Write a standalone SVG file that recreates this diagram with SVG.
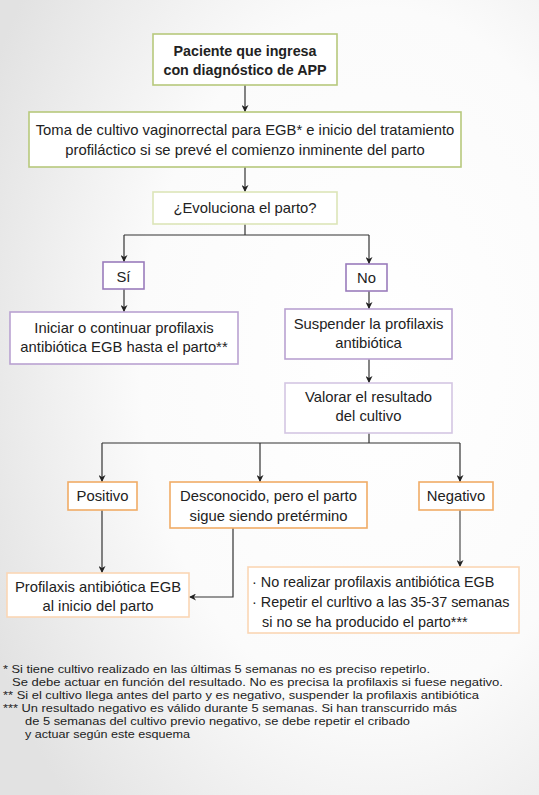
<svg xmlns="http://www.w3.org/2000/svg" width="539" height="795" viewBox="0 0 539 795">
<defs>
<radialGradient id="bg" cx="0.7" cy="0.45" r="0.8">
<stop offset="0" stop-color="#ffffff"/>
<stop offset="0.55" stop-color="#fbfbfb"/>
<stop offset="1" stop-color="#e2e2e2"/>
</radialGradient>
<marker id="ah" viewBox="0 0 10 10" refX="10" refY="5" markerWidth="7" markerHeight="7" markerUnits="userSpaceOnUse" orient="auto">
<path d="M0,0 L10,5 L0,10 L3,5 z" fill="#222"/>
</marker>
</defs>
<style>
rect.n{fill:#fff;stroke-width:1.6}
.g1{stroke:#b7c97c}
.g2{stroke:#dce5b8}
.p1{stroke:#9a7cbc}
.p2{stroke:#b9a2d1}
.p3{stroke:#d4c6e3}
.o1{stroke:#f0ac66}
.o2{stroke:#fbd6b5}
text{font-family:"Liberation Sans",Arial,sans-serif;fill:#222;font-size:14.8px}
text.c{text-anchor:middle}
text.b{font-weight:bold;font-size:14.3px}
text.s{font-size:14.4px}
text.f{font-size:11px}
.con path{fill:none;stroke:#333;stroke-width:1.2}
</style>
<rect width="539" height="795" fill="url(#bg)"/>
<g class="con">
<path d="M245,85 V112" marker-end="url(#ah)"/>
<path d="M245,167 V192" marker-end="url(#ah)"/>
<path d="M245,224 V235 M124,235 H369"/>
<path d="M124,235 V262" marker-end="url(#ah)"/>
<path d="M369,235 V264" marker-end="url(#ah)"/>
<path d="M124,289 V312" marker-end="url(#ah)"/>
<path d="M369,291 V309" marker-end="url(#ah)"/>
<path d="M369,359 V383" marker-end="url(#ah)"/>
<path d="M369,433 V443 M102,443 H460"/>
<path d="M102,443 V482" marker-end="url(#ah)"/>
<path d="M260,443 V482" marker-end="url(#ah)"/>
<path d="M460,443 V482" marker-end="url(#ah)"/>
<path d="M102,510 V573" marker-end="url(#ah)"/>
<path d="M233,528 V597 H189" marker-end="url(#ah)"/>
<path d="M460,510 V567" style="stroke:#666;stroke-width:1.4" marker-end="url(#ah)"/>
</g>
<g id="n1"><rect class="n g1" x="153" y="34" width="184" height="51"/>
<text class="c b" x="245" y="56">Paciente que ingresa</text>
<text class="c b" x="245" y="75">con diagnóstico de APP</text></g>
<g id="n2"><rect class="n g1" x="29" y="112" width="432" height="55"/>
<text class="c" x="245" y="135">Toma de cultivo vaginorrectal para EGB* e inicio del tratamiento</text>
<text class="c" x="245" y="155">profiláctico si se prevé el comienzo inminente del parto</text></g>
<g id="n3"><rect class="n g2" x="153" y="192" width="184" height="32"/>
<text class="c" x="245" y="213">¿Evoluciona el parto?</text></g>
<g id="n4"><rect class="n p1" x="103" y="262" width="41" height="27"/>
<text class="c" x="123.5" y="282">Sí</text></g>
<g id="n5"><rect class="n p1" x="346" y="264" width="41" height="27"/>
<text class="c" x="366.5" y="283">No</text></g>
<g id="n6"><rect class="n p2" x="10" y="312" width="228" height="52"/>
<text class="c" x="124" y="333">Iniciar o continuar profilaxis</text>
<text class="c" x="124" y="352">antibiótica EGB hasta el parto**</text></g>
<g id="n7"><rect class="n p2" x="285" y="309" width="167" height="50"/>
<text class="c" x="368.5" y="329">Suspender la profilaxis</text>
<text class="c" x="368.5" y="348">antibiótica</text></g>
<g id="n8"><rect class="n p3" x="285" y="383" width="167" height="50"/>
<text class="c" x="368.5" y="402">Valorar el resultado</text>
<text class="c" x="368.5" y="421">del cultivo</text></g>
<g id="n9"><rect class="n o1" x="68" y="482" width="69" height="28"/>
<text class="c" x="102.5" y="501">Positivo</text></g>
<g id="n10"><rect class="n o1" x="170" y="482" width="197" height="46"/>
<text class="c" x="268.5" y="501">Desconocido, pero el parto</text>
<text class="c" x="268.5" y="521">sigue siendo pretérmino</text></g>
<g id="n11"><rect class="n o1" x="419" y="482" width="74" height="28"/>
<text class="c" x="456" y="501">Negativo</text></g>
<g id="n12"><rect class="n o2" x="7" y="573" width="182" height="44"/>
<text class="c" x="98" y="592">Profilaxis antibiótica EGB</text>
<text class="c" x="98" y="611">al inicio del parto</text></g>
<g id="n13"><rect class="n o2" x="248" y="567" width="271" height="66"/>
<text class="s" x="252" y="587">· No realizar profilaxis antibiótica EGB</text>
<text class="s" x="252" y="607">· Repetir el curltivo a las 35-37 semanas</text>
<text class="s" x="262" y="627">si no se ha producido el parto***</text></g>
<g id="notes">
<text class="f" x="3" y="673" textLength="427" lengthAdjust="spacingAndGlyphs">* Si tiene cultivo realizado en las últimas 5 semanas no es preciso repetirlo.</text>
<text class="f" x="12" y="686" textLength="491" lengthAdjust="spacingAndGlyphs">Se debe actuar en función del resultado. No es precisa la profilaxis si fuese negativo.</text>
<text class="f" x="3" y="699" textLength="476" lengthAdjust="spacingAndGlyphs">** Si el cultivo llega antes del parto y es negativo, suspender la profilaxis antibiótica</text>
<text class="f" x="3" y="712" textLength="454" lengthAdjust="spacingAndGlyphs">*** Un resultado negativo es válido durante 5 semanas. Si han transcurrido más</text>
<text class="f" x="25" y="725" textLength="385" lengthAdjust="spacingAndGlyphs">de 5 semanas del cultivo previo negativo, se debe repetir el cribado</text>
<text class="f" x="25" y="738" textLength="165" lengthAdjust="spacingAndGlyphs">y actuar según este esquema</text>
</g>
</svg>
